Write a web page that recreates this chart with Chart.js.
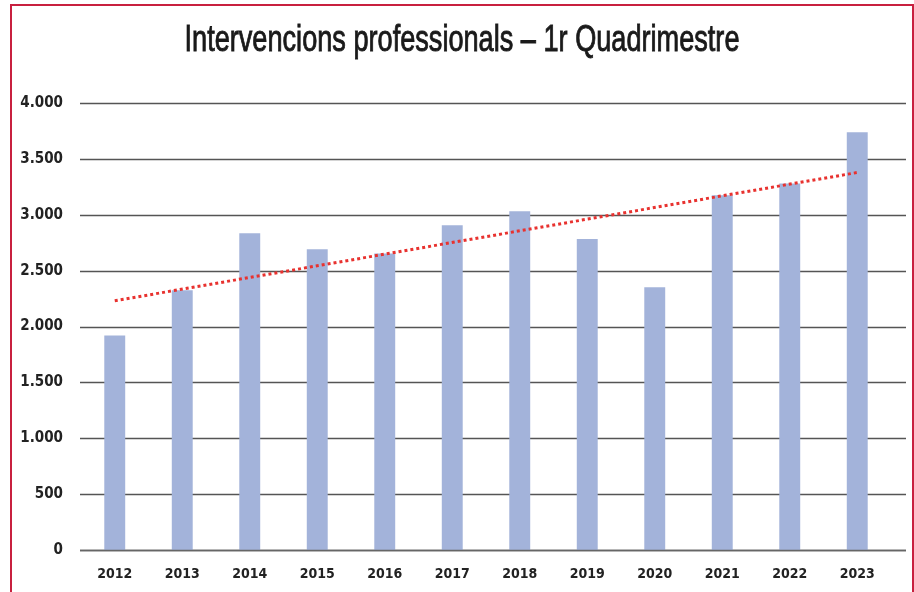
<!DOCTYPE html>
<html>
<head>
<meta charset="utf-8">
<script src="https://cdn.jsdelivr.net/npm/chart.js@4.4.1/dist/chart.umd.min.js"></script>
<style>
  html, body { margin: 0; padding: 0; background: #fff; overflow: hidden; }
  #wrap { position: absolute; left: 0; top: 0; width: 914px; height: 592px; }
  #frame {
    position: absolute; left: 10px; top: 4px; width: 900px; height: 620px;
    border: 2px solid #c8203f; pointer-events: none;
  }
</style>
</head>
<body>
<div id="wrap">
  <canvas id="chart" width="914" height="592"></canvas>
  <div id="frame"></div>
</div>
<script>
// dades
const years = ['2012', '2013', '2014', '2015', '2016', '2017', '2018', '2019', '2020', '2021', '2022', '2023'];
const interventions = [1920, 2325, 2835, 2692, 2654, 2907, 3032, 2782, 2352, 3175, 3280, 3739];
// línia de tendència (llegida als extrems del gràfic)
const trend = [2230, null, null, null, null, null, null, null, null, null, null, 3378];
const yTicks = [0, 500, 1000, 1500, 2000, 2500, 3000, 3500, 4000];
const titleText = 'Intervencions professionals – 1r Quadrimestre';

const narrow = '"DejaVu Sans Condensed", "Liberation Sans Narrow", sans-serif';

// títol condensat (estil Futura Condensed)
const titlePlugin = {
  id: 'condensedTitle',
  afterDraw(chart) {
    const ctx = chart.ctx;
    ctx.save();
    ctx.font = '37px "Liberation Sans", Arial, sans-serif';
    ctx.fillStyle = '#1a1a1a';
    ctx.strokeStyle = '#1a1a1a';
    ctx.lineWidth = 0.9;
    ctx.textBaseline = 'middle';
    ctx.textAlign = 'center';
    const w = ctx.measureText(titleText).width;
    const sx = 555 / w;
    ctx.translate(462, 41);
    ctx.scale(sx, 1);
    ctx.fillText(titleText, 0, 0);
    ctx.strokeText(titleText, 0, 0);
    ctx.restore();
  },
};

// línies de la quadrícula fins a la vora dreta
const gridPlugin = {
  id: 'longGrid',
  beforeDatasetsDraw(chart) {
    const ctx = chart.ctx;
    const y = chart.scales.y;
    ctx.save();
    ctx.strokeStyle = '#555';
    ctx.lineWidth = 1.5;
    yTicks.forEach((v) => {
      const py = Math.round(y.getPixelForValue(v)) + 0.5;
      ctx.beginPath();
      ctx.moveTo(chart.chartArea.left - 1, py);
      ctx.lineTo(906, py);
      ctx.stroke();
    });
    ctx.restore();
  },
  afterDatasetsDraw(chart) {
    const ctx = chart.ctx;
    const py = Math.round(chart.scales.y.getPixelForValue(0)) + 0.5;
    ctx.save();
    ctx.strokeStyle = '#666';
    ctx.lineWidth = 1.5;
    ctx.beginPath();
    ctx.moveTo(chart.chartArea.left - 1, py);
    ctx.lineTo(906, py);
    ctx.stroke();
    ctx.restore();
  },
};

new Chart(document.getElementById('chart').getContext('2d'), {
  type: 'bar',
  data: {
    labels: years,
    datasets: [
      {
        type: 'line',
        label: 'Tendència',
        data: trend,
        spanGaps: true,
        borderColor: '#e8322f',
        borderWidth: 3,
        borderDash: [3, 3],
        pointRadius: 0,
        fill: false,
        order: 0,
      },
      {
        label: 'Intervencions',
        data: interventions,
        backgroundColor: '#a3b3da',
        categoryPercentage: 1,
        barPercentage: 0.31,
        order: 1,
      },
    ],
  },
  options: {
    responsive: false,
    animation: false,
    events: [],
    layout: { padding: { top: 103, right: 23, bottom: 0, left: 0 } },
    plugins: {
      legend: { display: false },
      title: { display: false },
      tooltip: { enabled: false },
    },
    scales: {
      x: {
        afterFit: (scale) => { scale.height = 42; },
        grid: { display: false, drawTicks: false },
        border: { display: false },
        ticks: {
          padding: 16,
          color: '#222',
          font: { family: narrow, size: 14, weight: 'bold' },
        },
      },
      y: {
        min: 0,
        max: 4000,
        afterFit: (scale) => { scale.width = 81; },
        afterBuildTicks: (scale) => { scale.ticks = yTicks.map((v) => ({ value: v })); },
        grid: { display: false, drawTicks: false },
        border: { display: false },
        ticks: {
          padding: 18,
          color: '#222',
          font: { family: narrow, size: 15, weight: 'bold' },
          callback: (v) => v.toLocaleString('de-DE'),
        },
      },
    },
  },
  plugins: [gridPlugin, titlePlugin],
});
</script>
</body>
</html>
